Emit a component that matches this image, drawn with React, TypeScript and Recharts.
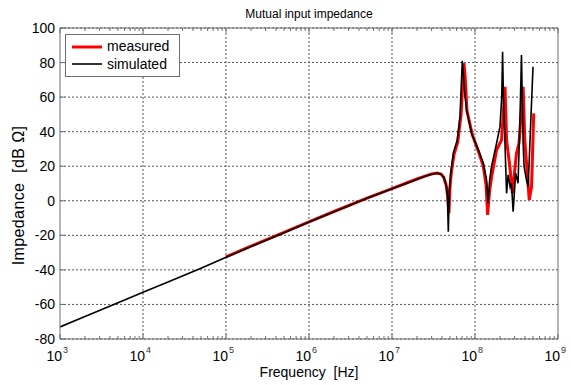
import { LineChart, Line, XAxis, YAxis, CartesianGrid, ReferenceLine, Legend } from 'recharts';

const FONT = '"Liberation Sans", Arial, Helvetica, sans-serif';
const AXIS = '#6e6e6e';
const GRID = '#555555';

// frequency axis (Hz), log decades
const MAJOR_X = [1e3, 1e4, 1e5, 1e6, 1e7, 1e8, 1e9];
const MINOR_MULT = [2, 3, 4, 5, 6, 7, 8, 9];
const Y_TICKS = [-80, -60, -40, -20, 0, 20, 40, 60, 80, 100];

// simulated impedance [dB Ohm]
const simFreq = [
  1e3, 2e3, 5e3, 1e4, 2e4, 5e4, 1e5, 2e5, 5e5, 1e6, 2e6, 5e6,
  1e7, 1.5e7, 2e7, 2.5e7, 3e7, 3.5e7, 3.9e7, 4.2e7, 4.5e7, 4.65e7, 4.77e7, 4.9e7,
  5.1e7, 5.5e7, 6.1e7, 6.6e7, 7.03e7, 7.2e7, 7.6e7, 7.94e7, 9.1e7, 1.1e8, 1.26e8, 1.38e8,
  1.44e8, 1.5e8, 1.58e8, 1.82e8, 2.0e8, 2.1e8, 2.15e8, 2.2e8, 2.29e8, 2.4e8, 2.51e8, 2.65e8,
  2.75e8, 2.88e8, 3.09e8, 3.3e8, 3.47e8, 3.63e8, 3.8e8, 3.9e8, 4.17e8, 4.37e8, 4.6e8, 5.0e8,
];
const simZ = [
  -73, -67, -59, -53, -47, -39, -32.7, -26.5, -18.5, -12.3, -6.3, 1.4,
  6.9, 10.2, 12.5, 14.2, 15.4, 15.9, 15.4, 13.5, 9, 3, -17.9, 5,
  16, 28, 35, 49, 81, 75, 60, 52.5, 39, 29.4, 21.7, 12,
  -1.5, 12, 19.8, 33.3, 42.9, 60, 86.3, 60, 35.2, 4.3, 15, 8,
  10.1, -6.3, 15.9, 10.1, 44.9, 84.4, 33.3, 20, 12, 8, 35, 77.6,
];

// measured impedance [dB Ohm]
const measFreq = [
  1e5, 2e5, 5e5, 1e6, 2e6, 5e6, 1e7, 1.5e7, 2e7, 2.5e7, 3e7, 3.5e7,
  3.9e7, 4.2e7, 4.5e7, 4.7e7, 4.85e7, 5.0e7, 5.2e7, 5.6e7, 6.2e7, 6.8e7, 7.36e7, 7.6e7,
  8.0e7, 9.3e7, 1.1e8, 1.26e8, 1.36e8, 1.42e8, 1.5e8, 1.6e8, 1.82e8, 2.09e8, 2.3e8, 2.4e8,
  2.63e8, 2.82e8, 3.16e8, 3.39e8, 3.8e8, 3.98e8, 4.27e8, 4.5e8, 4.8e8, 5.1e8,
];
const measZ = [
  -32.5, -26.3, -18.3, -12.2, -6.2, 1.5, 7, 10.3, 12.6, 14.3, 15.5, 16,
  15.5, 13.6, 9, 2, -7.2, 8, 17, 27, 34, 50, 79.6, 72,
  52, 38, 28.5, 20, 9, -8.2, 6, 15, 29.4, 35.2, 66, 35,
  19.8, 4.3, 27.5, 33.3, 66, 35, 15.9, 0.5, 8, 50.6,
];

const simulated = simFreq.map((f, i) => ({ f, z: simZ[i] }));
const measured = measFreq.map((f, i) => ({ f, z: measZ[i] }));

const xTicks = [
  ...MAJOR_X,
  ...MAJOR_X.slice(0, -1).flatMap((d) => MINOR_MULT.map((m) => m * d)),
].sort((a, b) => a - b);

const isMajor = (v: number) => {
  const l = Math.log10(v);
  return Math.abs(l - Math.round(l)) < 1e-9;
};

function BottomTick({ x, y, payload }: any) {
  const v = payload.value;
  const major = isMajor(v);
  return (
    <g>
      <line x1={x} y1={y} x2={x} y2={y - (major ? 5 : 3)} stroke={AXIS} />
      {major && (
        <>
          <text x={x + 2} y={y + 22} textAnchor="end" fontSize={14} fontFamily={FONT} fill="#000">
            10
          </text>
          <text x={x + 3} y={y + 14} fontSize={9} fontFamily={FONT} fill="#333">
            {Math.round(Math.log10(v))}
          </text>
        </>
      )}
    </g>
  );
}

function TopTick({ x, y, payload }: any) {
  const major = isMajor(payload.value);
  return <line x1={x} y1={y} x2={x} y2={y + (major ? 5 : 3)} stroke={AXIS} />;
}

function LeftTick({ x, y, payload }: any) {
  return (
    <g>
      <line x1={x} y1={y} x2={x + 5} y2={y} stroke={AXIS} />
      <text x={x - 5} y={y} dy="0.36em" textAnchor="end" fontSize={14} fontFamily={FONT} fill="#000">
        {payload.value}
      </text>
    </g>
  );
}

function RightTick({ x, y }: any) {
  return <line x1={x} y1={y} x2={x - 5} y2={y} stroke={AXIS} />;
}

function LegendBox() {
  const row = (color: string, w: number, label: string) => (
    <div style={{ display: 'flex', alignItems: 'center', height: 17.6 }}>
      <svg width={30} height={6} style={{ marginRight: 5 }}>
        <line x1={0} y1={3} x2={30} y2={3} stroke={color} strokeWidth={w} />
      </svg>
      <span>{label}</span>
    </div>
  );
  return (
    <div
      style={{
        boxSizing: 'border-box',
        width: 115,
        height: 43,
        border: `1px solid ${AXIS}`,
        background: '#fff',
        padding: '3px 0 0 6px',
        fontFamily: FONT,
        fontSize: 14,
        color: '#000',
        lineHeight: '17.6px',
      }}
    >
      {row('#ff0000', 3, 'measured')}
      {row('#000000', 1.6, 'simulated')}
    </div>
  );
}

export default function App() {
  return (
    <div style={{ position: 'absolute', left: 0, top: 0, background: '#fff' }}>
      <LineChart width={571} height={385} margin={{ top: 0, right: 0, bottom: 0, left: 0 }}>
        <CartesianGrid xAxisId="b" yAxisId="l" vertical={false} stroke={GRID} strokeDasharray="2 2" />
        {MAJOR_X.slice(1, -1).map((v) => (
          <ReferenceLine key={v} x={v} xAxisId="b" yAxisId="l" stroke={GRID} strokeDasharray="2 2" />
        ))}
        <XAxis
          xAxisId="b"
          dataKey="f"
          type="number"
          scale="log"
          domain={[1e3, 1e9]}
          allowDataOverflow
          ticks={xTicks}
          interval={0}
          height={46}
          tickSize={0}
          tickMargin={0}
          tick={<BottomTick />}
          stroke={AXIS}
          label={{
            content: (p: any) => {
              const vb = p.viewBox || { x: 60, y: 339, width: 498, height: 46 };
              return (
                <text x={vb.x + vb.width / 2} y={vb.y + vb.height - 8} textAnchor="middle" fontSize={14} fontFamily={FONT} fill="#000">
                  {'Frequency\u00a0\u00a0[Hz]'}
                </text>
              );
            },
          }}
        />
        <XAxis
          xAxisId="t"
          orientation="top"
          dataKey="f"
          type="number"
          scale="log"
          domain={[1e3, 1e9]}
          allowDataOverflow
          ticks={xTicks}
          interval={0}
          height={28}
          tickSize={0}
          tickMargin={0}
          tick={<TopTick />}
          stroke={AXIS}
          label={{
            content: (p: any) => {
              const vb = p.viewBox || { x: 60, y: 0, width: 498, height: 28 };
              return (
                <text x={vb.x + vb.width / 2} y={18} textAnchor="middle" fontSize={12} fontFamily={FONT} fill="#000">
                  Mutual input impedance
                </text>
              );
            },
          }}
        />
        <YAxis
          yAxisId="l"
          type="number"
          domain={[-80, 100]}
          ticks={Y_TICKS}
          interval={0}
          width={60}
          tickSize={0}
          tickMargin={0}
          tick={<LeftTick />}
          stroke={AXIS}
          label={{
            content: (p: any) => {
              const vb = p.viewBox || { x: 0, y: 28, width: 60, height: 311 };
              const cx = vb.x + 24;
              const cy = vb.y + vb.height / 2 + 12;
              return (
                <text x={cx} y={cy} transform={`rotate(-90 ${cx} ${cy})`} textAnchor="middle" fontSize={16} letterSpacing={0.4} fontFamily={FONT} fill="#000">
                  {'Impedance\u00a0\u00a0[dB\u00a0Ω]'}
                </text>
              );
            },
          }}
        />
        <YAxis
          yAxisId="r"
          orientation="right"
          type="number"
          domain={[-80, 100]}
          ticks={Y_TICKS}
          interval={0}
          width={13}
          tickSize={0}
          tickMargin={0}
          tick={<RightTick />}
          stroke={AXIS}
        />
        <Legend
          layout="vertical"
          align="center"
          verticalAlign="middle"
          wrapperStyle={{ left: 65, top: 34, width: 115, height: 43 }}
          content={() => <LegendBox />}
        />
        <Line
          data={measured}
          xAxisId="b"
          yAxisId="l"
          dataKey="z"
          name="measured"
          type="linear"
          stroke="#ff0000"
          strokeWidth={3}
          dot={false}
          isAnimationActive={false}
        />
        <Line
          data={simulated}
          xAxisId="b"
          yAxisId="l"
          dataKey="z"
          name="simulated"
          type="linear"
          stroke="#000000"
          strokeWidth={1.6}
          dot={false}
          isAnimationActive={false}
        />
      </LineChart>
    </div>
  );
}
